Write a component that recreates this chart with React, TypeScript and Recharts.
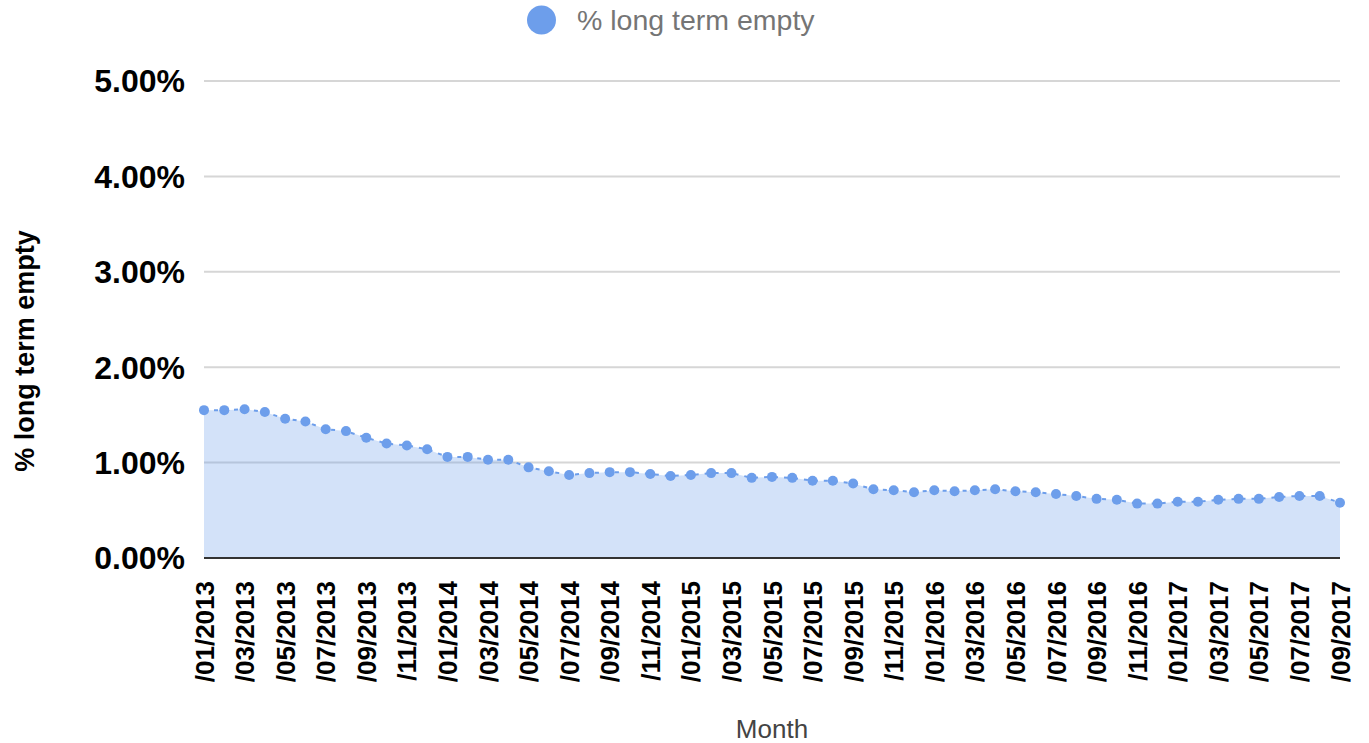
import React from 'react';
import { AreaChart, Area, XAxis, YAxis, CartesianGrid, Legend } from 'recharts';

const months = [
  '/01/2013', '/02/2013', '/03/2013', '/04/2013', '/05/2013', '/06/2013', '/07/2013', '/08/2013', '/09/2013', '/10/2013', '/11/2013', '/12/2013',
  '/01/2014', '/02/2014', '/03/2014', '/04/2014', '/05/2014', '/06/2014', '/07/2014', '/08/2014', '/09/2014', '/10/2014', '/11/2014', '/12/2014',
  '/01/2015', '/02/2015', '/03/2015', '/04/2015', '/05/2015', '/06/2015', '/07/2015', '/08/2015', '/09/2015', '/10/2015', '/11/2015', '/12/2015',
  '/01/2016', '/02/2016', '/03/2016', '/04/2016', '/05/2016', '/06/2016', '/07/2016', '/08/2016', '/09/2016', '/10/2016', '/11/2016', '/12/2016',
  '/01/2017', '/02/2017', '/03/2017', '/04/2017', '/05/2017', '/06/2017', '/07/2017', '/08/2017', '/09/2017',
];

const longTermEmpty = [
  1.55, 1.55, 1.56, 1.53, 1.46, 1.43, 1.35, 1.33, 1.26, 1.20, 1.18, 1.14,
  1.06, 1.06, 1.03, 1.03, 0.95, 0.91, 0.87, 0.89, 0.90, 0.90, 0.88, 0.86,
  0.87, 0.89, 0.89, 0.84, 0.85, 0.84, 0.81, 0.81, 0.78, 0.72, 0.71, 0.69,
  0.71, 0.70, 0.71, 0.72, 0.70, 0.69, 0.67, 0.65, 0.62, 0.61, 0.57, 0.57,
  0.59, 0.59, 0.61, 0.62, 0.62, 0.64, 0.65, 0.65, 0.58,
];

const yTicks = [0, 1, 2, 3, 4, 5];

const seriesName = '% long term empty';

const data = months.map((m, i) => ({ month: m, value: longTermEmpty[i] }));

const FONT = '"Liberation Sans", Arial, sans-serif';
const BLUE = '#6d9eeb';

const XTick = (props: any) => {
  const { x, y, payload } = props;
  return (
    <text
      x={0}
      y={0}
      transform={`translate(${x + 9.5}, ${y + 15}) rotate(-90)`}
      textAnchor="end"
      fontFamily={FONT}
      fontSize={26}
      fontWeight="bold"
      fill="#000"
    >
      {payload.value}
    </text>
  );
};

const LegendContent = () => (
  <svg width={320} height={40}>
    <circle cx={21.5} cy={20} r={14.5} fill={BLUE} />
    <text x={57} y={29.5} fontFamily={FONT} fontSize={28.5} fill="#757575">
      {seriesName}
    </text>
  </svg>
);

export default function App() {
  return (
    <div style={{ position: 'absolute', left: 0, top: 0 }}>
      <AreaChart
        width={1369}
        height={743}
        data={data}
        margin={{ top: 41, right: 29, bottom: 0, left: 0 }}
      >
        <Legend
          verticalAlign="top"
          height={40}
          content={LegendContent}
          wrapperStyle={{ top: 0, left: 520, width: 320, height: 40 }}
        />
        <CartesianGrid vertical={false} stroke="#d6d6d6" strokeWidth={2} />
        <XAxis
          dataKey="month"
          interval={1}
          height={185}
          tickLine={false}
          axisLine={{ stroke: '#333', strokeWidth: 2 }}
          tick={<XTick />}
          label={() => (
            <text x={772} y={738} textAnchor="middle" fontFamily={FONT} fontSize={26} fill="#444">
              Month
            </text>
          )}
        />
        <YAxis
          width={204}
          domain={[0, 5]}
          ticks={yTicks}
          interval={0}
          tickLine={false}
          axisLine={false}
          tickMargin={13}
          tickFormatter={(v: number) => `${v.toFixed(2)}%`}
          tick={{ fontFamily: FONT, fontSize: 32, fontWeight: 'bold', fill: '#000' }}
          label={() => (
            <text
              x={0}
              y={0}
              transform="translate(34, 351) rotate(-90)"
              textAnchor="middle"
              fontFamily={FONT}
              fontSize={27}
              fontWeight="bold"
              fill="#000"
            >
              {seriesName}
            </text>
          )}
        />
        <Area
          type="linear"
          dataKey="value"
          name={seriesName}
          stroke={BLUE}
          strokeWidth={2}
          strokeDasharray="4 6"
          fill={BLUE}
          fillOpacity={0.3}
          dot={{ r: 5, fill: BLUE, stroke: 'none', fillOpacity: 1 }}
          activeDot={false}
          isAnimationActive={false}
        />
      </AreaChart>
    </div>
  );
}
